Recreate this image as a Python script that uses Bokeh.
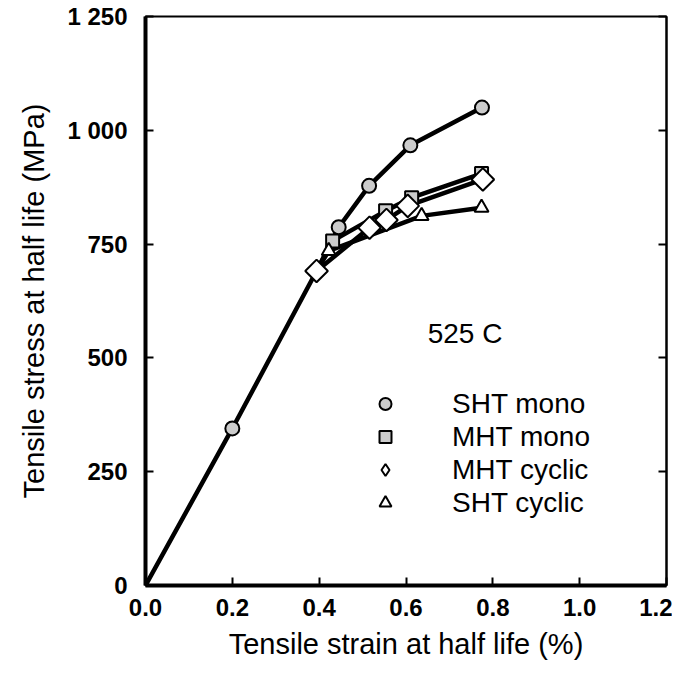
import math
from bokeh.plotting import figure
from bokeh.models import FixedTicker, LinearAxis, Label, Legend, LegendItem, Range1d
from bokeh.embed import file_html
from bokeh.resources import INLINE

# ---- data ----
elastic_strain = [0.0, 0.2, 0.394]
elastic_stress = [0, 345, 691]

sht_mono_strain = [0.2, 0.445, 0.515, 0.61, 0.775]
sht_mono_stress = [345, 787, 878, 967, 1050]

mht_mono_strain = [0.431, 0.553, 0.613, 0.774]
mht_mono_stress = [757, 823, 852, 905]

mht_cyclic_strain = [0.394, 0.516, 0.555, 0.604, 0.777]
mht_cyclic_stress = [691, 786, 803, 834, 892]

sht_cyclic_strain = [0.422, 0.636, 0.774]
sht_cyclic_stress = [735, 812, 830]

x_ticks = [0.0, 0.2, 0.4, 0.6, 0.8, 1.0, 1.2]
x_tick_labels = ["0.0", "0.2", "0.4", "0.6", "0.8", "1.0", "1.2"]
y_ticks = [0, 250, 500, 750, 1000, 1250]
y_tick_labels = ["0", "250", "500", "750", "1 000", "1 250"]

FONT = "Liberation Sans"

p = figure(width=672, height=669, output_backend="svg", toolbar_location=None,
           x_range=Range1d(0, 1.2), y_range=Range1d(0, 1250),
           min_border_left=145, min_border_right=6, min_border_top=16, min_border_bottom=84)
p.grid.visible = False
p.background_fill_color = "white"
p.outline_line_color = "black"
p.outline_line_width = 2

# axes
p.xaxis.ticker = FixedTicker(ticks=x_ticks)
p.xaxis.major_label_overrides = {t: l for t, l in zip(x_ticks, x_tick_labels)}
p.yaxis.ticker = FixedTicker(ticks=y_ticks)
p.yaxis.major_label_overrides = {t: l for t, l in zip(y_ticks, y_tick_labels)}
p.xaxis.axis_label = "Tensile strain at half life (%)"
p.yaxis.axis_label = "Tensile stress at half life (MPa)"
for ax in (p.xaxis[0], p.yaxis[0]):
    ax.axis_line_width = 4
    ax.major_tick_in = 8
    ax.major_tick_out = 0
    ax.major_tick_line_width = 2
    ax.minor_tick_line_color = None
    ax.major_label_text_font = FONT
    ax.major_label_text_font_size = "24px"
    ax.major_label_text_font_style = "bold"
    ax.major_label_text_color = "black"
    ax.axis_label_text_font = FONT
    ax.axis_label_text_font_size = "29px"
    ax.axis_label_text_font_style = "normal"
    ax.axis_label_text_color = "black"
p.xaxis.major_label_standoff = 13
p.xaxis.axis_label_standoff = 9
p.yaxis.major_label_standoff = 18
p.yaxis.axis_label_standoff = 14

right = LinearAxis(ticker=FixedTicker(ticks=y_ticks), major_label_text_font_size="0px",
                   major_label_standoff=0,
                   major_tick_in=8, major_tick_out=0, major_tick_line_width=2,
                   minor_tick_line_color=None, axis_line_width=2)
p.add_layout(right, "right")

# lines
LW = 4.5
p.line(elastic_strain, elastic_stress, line_color="black", line_width=LW)
p.line([elastic_strain[-1]] + sht_mono_strain[1:], [elastic_stress[-1]] + sht_mono_stress[1:],
       line_color="black", line_width=LW)
p.line([elastic_strain[-1]] + mht_mono_strain, [elastic_stress[-1]] + mht_mono_stress,
       line_color="black", line_width=LW)
p.line(mht_cyclic_strain, mht_cyclic_stress, line_color="black", line_width=LW)
p.line([elastic_strain[-1]] + sht_cyclic_strain, [elastic_stress[-1]] + sht_cyclic_stress,
       line_color="black", line_width=LW)

# markers
r_sq = p.scatter(mht_mono_strain, mht_mono_stress, marker="square", size=13,
                 fill_color="#cccccc", line_color="black", line_width=2)
r_tri = p.scatter(sht_cyclic_strain, sht_cyclic_stress, marker="triangle", size=14,
                  fill_color="white", line_color="black", line_width=2)
p.scatter(mht_cyclic_strain, mht_cyclic_stress, marker="square", size=16,
          angle=math.pi / 4, fill_color="white", line_color="black", line_width=2)
r_ci = p.scatter(sht_mono_strain, sht_mono_stress, marker="circle", size=14,
                 fill_color="#cccccc", line_color="black", line_width=2)
# legend-only glyph for the diamond key (hidden in the plot area)
r_di_key = p.scatter(mht_cyclic_strain, mht_cyclic_stress, marker="diamond", size=18,
                     fill_color="white", line_color="black", line_width=2, visible=False)

legend = Legend(items=[
    LegendItem(label="SHT mono", renderers=[r_ci]),
    LegendItem(label="MHT mono", renderers=[r_sq]),
    LegendItem(label="MHT cyclic", renderers=[r_di_key]),
    LegendItem(label="SHT cyclic", renderers=[r_tri]),
], location=(225, 66), border_line_color=None, background_fill_alpha=0,
    inactive_fill_alpha=0,
    glyph_width=30, glyph_height=33, label_height=33, spacing=0, padding=0,
    label_standoff=52, label_text_font=FONT, label_text_font_size="28px",
    label_text_color="black", margin=0)
p.add_layout(legend)

p.add_layout(Label(x=0.65, y=554, text="525 C", text_font=FONT, text_font_size="28px",
                   text_baseline="middle", text_color="black"))

open("out.html", "w").write(file_html(p, INLINE))
